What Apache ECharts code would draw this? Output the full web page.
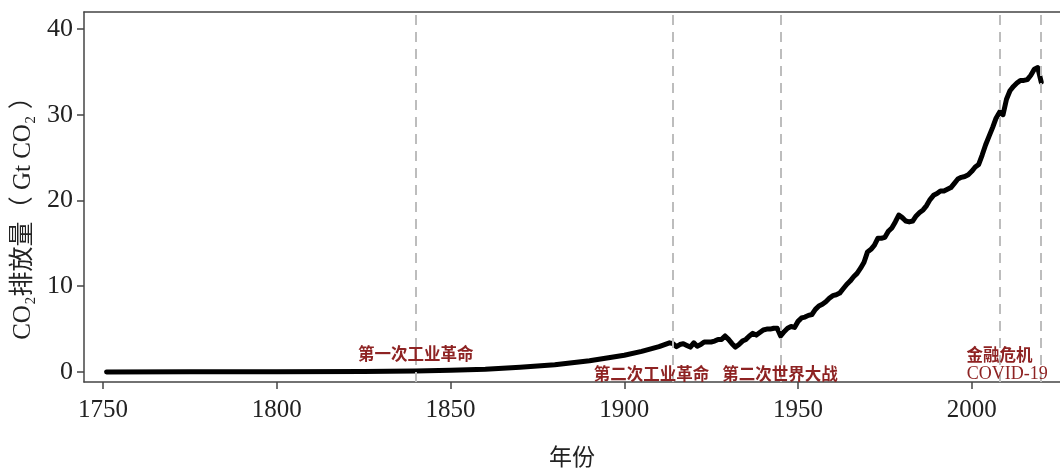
<!DOCTYPE html>
<html>
<head>
<meta charset="utf-8">
<script src="https://cdn.jsdelivr.net/npm/echarts@6/dist/echarts.min.js"></script>
<style>
  html, body { margin: 0; padding: 0; background: #fff; }
  #chart { width: 1060px; height: 471px; }
</style>
</head>
<body>
<div id="chart"></div>
<script>
// years and global CO2 emissions (Gt CO2)
const years = [
  1751, 1775, 1800, 1825, 1840, 1850, 1860, 1870, 1880, 1890, 1900, 1905, 1910, 1913,
  1914, 1915, 1916, 1917, 1918, 1919, 1920, 1921, 1922, 1923, 1924, 1925, 1926, 1927,
  1928, 1929, 1930, 1931, 1932, 1933, 1934, 1935, 1936, 1937, 1938, 1939, 1940, 1941,
  1942, 1943, 1944, 1945, 1946, 1947, 1948, 1949, 1950, 1951, 1952, 1953, 1954, 1955,
  1956, 1957, 1958, 1959, 1960, 1961, 1962, 1963, 1964, 1965, 1966, 1967, 1968, 1969,
  1970, 1971, 1972, 1973, 1974, 1975, 1976, 1977, 1978, 1979, 1980, 1981, 1982, 1983,
  1984, 1985, 1986, 1987, 1988, 1989, 1990, 1991, 1992, 1993, 1994, 1995, 1996, 1997,
  1998, 1999, 2000, 2001, 2002, 2003, 2004, 2005, 2006, 2007, 2008, 2009, 2010, 2011,
  2012, 2013, 2014, 2015, 2016, 2017, 2018, 2019, 2020
];
const emissions = [
  0.01, 0.02, 0.03, 0.06, 0.11, 0.2, 0.33, 0.55, 0.85, 1.3, 1.95, 2.4, 2.95, 3.4,
  3.3, 2.95, 3.2, 3.3, 3.1, 2.9, 3.4, 3.0, 3.2, 3.5, 3.5, 3.5, 3.6, 3.8,
  3.8, 4.2, 3.8, 3.3, 2.9, 3.2, 3.6, 3.8, 4.2, 4.5, 4.3, 4.6, 4.9, 5.0,
  5.0, 5.1, 5.1, 4.2, 4.7, 5.1, 5.3, 5.2, 5.9, 6.3, 6.4, 6.6, 6.7, 7.3,
  7.7, 7.9, 8.2, 8.6, 8.9, 9.0, 9.2, 9.7, 10.2, 10.6, 11.1, 11.5, 12.1, 12.8,
  14.0, 14.3, 14.8, 15.6, 15.6, 15.7, 16.4, 16.8, 17.5, 18.3, 18.0, 17.6, 17.5, 17.6,
  18.2, 18.6, 18.9, 19.4, 20.1, 20.6, 20.8, 21.1, 21.1, 21.3, 21.5, 22.0, 22.5, 22.7,
  22.8, 23.0, 23.4, 23.9, 24.2, 25.3, 26.5, 27.5, 28.5, 29.6, 30.3, 30.0, 31.8, 32.8,
  33.3, 33.7, 34.0, 34.0, 34.1, 34.6, 35.3, 35.5, 33.8
];

const xTicks = [1750, 1800, 1850, 1900, 1950, 2000];
const yTicks = [0, 10, 20, 30, 40];

// event lines
const eventYears = [1840, 1914, 1945, 2008, 2020];
const eventNames = ['第一次工业革命', '第二次工业革命', '第二次世界大战', '金融危机', 'COVID-19'];

const serif = '"Liberation Serif", "Noto Sans CJK SC", serif';
const red = '#8e2323';

// label anchors (data coords) for each event name
const anchors = [
  [1840, 2.1],
  [1907.8, -0.25],
  [1944.8, -0.25],
  [2008.0, 2.0],
  [2010.2, -0.25]
];

const chart = echarts.init(document.getElementById('chart'));

chart.setOption({
  animation: false,
  backgroundColor: '#fff',
  grid: { left: 84, right: 0, top: 12, bottom: 89, containLabel: false, outerBoundsMode: 'none' },
  xAxis: [
    {
      type: 'value',
      min: 1744.5,
      max: 2025.4,
      name: '年份',
      nameLocation: 'middle',
      nameGap: 63,
      nameTextStyle: { fontFamily: '"Noto Sans CJK SC"', fontSize: 23, color: '#222' },
      axisLine: { show: true, onZero: false, lineStyle: { color: '#444', width: 1.5 } },
      axisTick: { show: true, length: 7, customValues: xTicks, lineStyle: { color: '#444', width: 1.5 } },
      axisLabel: {
        customValues: xTicks,
        formatter: v => String(v),
        margin: 16,
        fontFamily: serif,
        fontSize: 25,
        color: '#222'
      },
      splitLine: { show: false }
    },
    {
      type: 'value',
      position: 'top',
      min: 1744.5,
      max: 2025.4,
      axisLine: { show: true, onZero: false, lineStyle: { color: '#444', width: 1.5 } },
      axisTick: { show: false },
      axisLabel: { show: false },
      splitLine: { show: false }
    }
  ],
  yAxis: {
    type: 'value',
    min: -1.17,
    max: 41.98,
    name: 'CO₂排放量（ Gt CO₂ ）',
    nameLocation: 'middle',
    nameGap: 46,
    nameRotate: 90,
    nameTextStyle: { fontFamily: serif, fontSize: 25, color: '#222', padding: [0, 30, 0, 0] },
    axisLine: { show: true, onZero: false, lineStyle: { color: '#444', width: 1.5 } },
    axisTick: { show: true, length: 7, customValues: yTicks, lineStyle: { color: '#444', width: 1.5 } },
    axisLabel: {
      customValues: yTicks,
      formatter: v => String(v),
      margin: 11,
      fontFamily: serif,
      fontSize: 26,
      color: '#222'
    },
    splitLine: { show: false }
  },
  series: [
    {
      type: 'line',
      data: years.map((y, i) => [y, emissions[i]]),
      showSymbol: false,
      symbol: 'none',
      lineStyle: { color: '#000', width: 5, join: 'round', cap: 'round' },
      z: 3,
      markLine: {
        silent: true,
        symbol: 'none',
        label: { show: false },
        lineStyle: { color: '#bdbdbd', width: 2, type: [10, 7] },
        data: eventYears.map(y => ({ xAxis: y }))
      },
      markPoint: {
        silent: true,
        symbol: 'rect',
        symbolSize: 1,
        itemStyle: { color: 'rgba(0,0,0,0)' },
        data: eventNames.map((n, i) => ({
          coord: anchors[i],
          value: n,
          label: {
            show: true,
            position: 'inside',
            formatter: n,
            color: red,
            fontFamily: n === 'COVID-19' ? serif : '"Noto Sans CJK SC"',
            fontWeight: n === 'COVID-19' ? 'normal' : 'bold',
            fontSize: n === 'COVID-19' ? 18 : 16.5
          }
        }))
      }
    }
  ]
});
</script>
</body>
</html>
